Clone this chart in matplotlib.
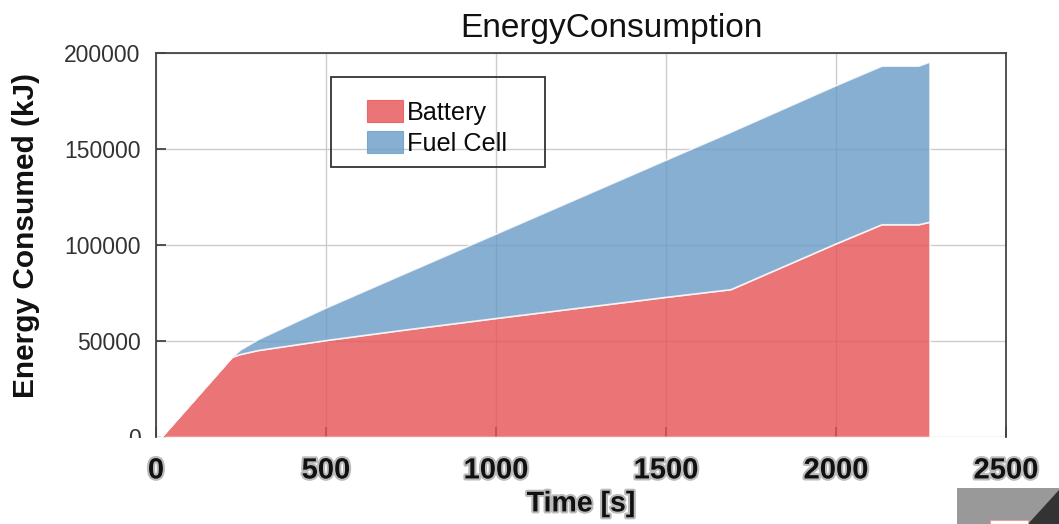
import matplotlib
matplotlib.use("Agg")
import matplotlib.pyplot as plt
import matplotlib.patheffects as pe
from matplotlib.patches import Rectangle, Polygon
from matplotlib.legend_handler import HandlerPatch

# ---- data ----
time_s = [0, 15, 223, 247, 300, 500, 720, 1000, 1500, 1690, 2000, 2134, 2242, 2275]
battery_kj = [0, 0, 41800, 43200, 45300, 50500, 55700, 62000, 73000, 77000,
              100900, 110800, 110800, 112100]
fuel_cell_kj = [0, 0, 0, 2300, 5700, 17000, 28800, 44000, 71500, 82000,
                82400, 82600, 82600, 83400]
series_labels = ["Battery", "Fuel Cell"]
x_ticks = [0, 500, 1000, 1500, 2000, 2500]
y_ticks = [0, 50000, 100000, 150000, 200000]

W, H = 1059, 524
fig = plt.figure(figsize=(W / 100, H / 100), dpi=100)
plt.rcParams['font.family'] = ['Liberation Sans', 'DejaVu Sans']

ax = fig.add_axes([156 / W, 1 - 437 / H, 850 / W, 384 / H])
ax.set_axisbelow(True)
ax.grid(True, color='#cccccc', linewidth=1.0)

red_base = (231 / 255, 83 / 255, 84 / 255)
blue_base = (105 / 255, 155 / 255, 199 / 255)
colors = [red_base, blue_base]
polys = ax.stackplot(time_s, battery_kj, fuel_cell_kj, labels=series_labels,
                     colors=colors, alpha=0.8,
                     edgecolor='white', linewidth=1.2)

ax.set_xlim(0, 2500)
ax.set_ylim(0, 200000)
ax.set_xticks(x_ticks)
ax.set_yticks(y_ticks)
ax.set_yticklabels([str(v) for v in y_ticks])
ax.set_xticklabels([str(v) for v in x_ticks])

for s in ['left', 'top', 'right']:
    ax.spines[s].set_color('#444444')
    ax.spines[s].set_linewidth(1.3)
ax.spines['bottom'].set_visible(False)

ax.tick_params(axis='y', direction='in', length=7.5, width=1.3, color='#444444',
               labelsize=16.5, labelcolor='#333333', pad=11)
ax.tick_params(axis='x', direction='in', length=7.5, width=1.3, color='#444444',
               labelsize=21, labelcolor='#111111', pad=14)
halo = [pe.withStroke(linewidth=3, foreground='#bbbbbb')]
for lbl in ax.get_xticklabels():
    lbl.set_fontweight('bold')
    lbl.set_path_effects(halo)

ax.set_xlabel("Time [s]", fontsize=20.5, fontweight='bold', labelpad=5,
              color='#111111', path_effects=halo)

fig.text(26 / W, 1 - 236 / H, "Energy Consumed (kJ)", rotation=90,
         ha='center', va='center', fontsize=21.5, fontweight='bold', color='#111111')
fig.text(611 / W, 1 - 37 / H, "EnergyConsumption", ha='center', va='baseline',
         fontsize=24, color='#111111')

# legend
def make_rect(legend, orig_handle, xdescent, ydescent, width, height, fontsize):
    w = 26
    return Rectangle((-xdescent + width - w, -ydescent), w, height)

proxies = [Rectangle((0, 0), 1, 1, facecolor=c, alpha=0.8, edgecolor=c, linewidth=0.8)
           for c in colors]
handler = HandlerPatch(patch_func=make_rect)
leg = ax.legend(handles=proxies, labels=series_labels, loc='upper left',
                bbox_to_anchor=(330 / W, 1 - 80 / H), bbox_transform=fig.transFigure,
                frameon=False, fontsize=18.2, handlelength=2.1, handleheight=0.97,
                handletextpad=0.15, labelspacing=0.24, borderpad=0.8,
                borderaxespad=0, handler_map={Rectangle: handler})
for t in leg.get_texts():
    t.set_color('#0a0a0a')
fig.add_artist(Rectangle((331 / W, 1 - 167 / H), 214 / W, 90 / H,
                         transform=fig.transFigure, fill=False,
                         edgecolor='#333333', linewidth=1.3, zorder=5))

# white mask clipping the lower half of the "0" y tick label
fig.add_artist(Rectangle((40 / W, 1 - 452 / H), 112 / W, 14.5 / H,
                         transform=fig.transFigure, facecolor='white',
                         edgecolor='none', zorder=10))

# bottom-right corner decoration
fig.add_artist(Rectangle((957 / W, 0), 102 / W, 36 / H, transform=fig.transFigure,
                         facecolor='#999999', edgecolor='none', zorder=10))
fig.add_artist(Polygon([(1028 / W, 0), (1059 / W, 34 / H), (1059 / W, 0)],
                       closed=True, transform=fig.transFigure,
                       facecolor='#333333', edgecolor='none', zorder=11))
fig.add_artist(Rectangle((990 / W, 0), 38 / W, 4 / H, transform=fig.transFigure,
                         facecolor='white', edgecolor='#e8a0a0', linewidth=0.8,
                         zorder=11))

fig.savefig("out.png", dpi=100)
